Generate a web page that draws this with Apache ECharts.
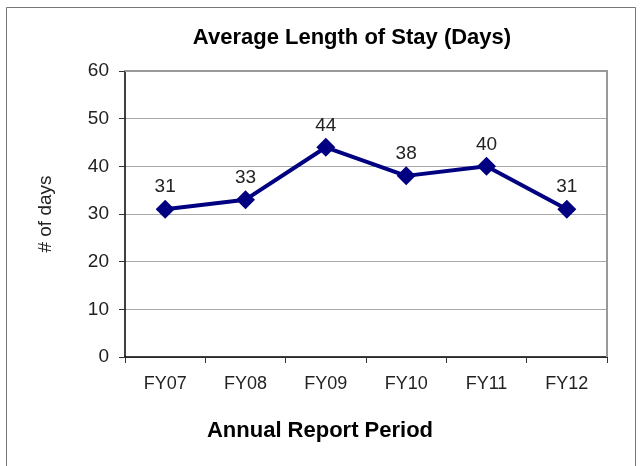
<!DOCTYPE html>
<html>
<head>
<meta charset="utf-8">
<script src="https://cdn.jsdelivr.net/npm/echarts@6/dist/echarts.min.js"></script>
<style>
  html, body { margin: 0; padding: 0; background: #fff; }
  #main { width: 640px; height: 466px; }
</style>
</head>
<body>
<div id="main"></div>
<script>
const periods = ['FY07', 'FY08', 'FY09', 'FY10', 'FY11', 'FY12']
const stayDays = [31, 33, 44, 38, 40, 31]

const chart = echarts.init(document.getElementById('main'))
const font = 'Liberation Sans'

const option = {
  animation: false,
  backgroundColor: '#fff',
  title: [{
    text: 'Average Length of Stay (Days)',
    left: 347,
    top: 22,
    textAlign: 'center',
    textStyle: { fontFamily: font, fontSize: 22, fontWeight: 'bold', color: '#000' },
  }, {
    text: 'Annual Report Period',
    left: 315,
    top: 415,
    textAlign: 'center',
    textStyle: { fontFamily: font, fontSize: 22, fontWeight: 'bold', color: '#000' },
  }],
  grid: { left: 125, right: 33, top: 71, bottom: 109 },
  xAxis: {
    type: 'category',
    data: periods,
    boundaryGap: true,
    axisLine: { lineStyle: { color: '#000', width: 1.5 } },
    axisTick: { show: true, length: 6, lineStyle: { color: '#333' } },
    axisLabel: { fontFamily: font, fontSize: 18, color: '#222', margin: 18 },
    splitLine: { show: false },
  },
  yAxis: {
    type: 'value',
    min: 0,
    max: 60,
    interval: 10,
    name: '# of days',
    nameLocation: 'middle',
    nameGap: 70,
    nameRotate: 90,
    nameTextStyle: { fontFamily: font, fontSize: 19, color: '#222' },
    axisLine: { show: true, lineStyle: { color: '#000', width: 1.5 } },
    axisTick: { show: true, length: 6, lineStyle: { color: '#333' } },
    axisLabel: { fontFamily: font, fontSize: 19, color: '#222', margin: 16 },
    splitLine: { show: true, lineStyle: { color: '#aaa', width: 1 } },
  },
  series: [{
    type: 'line',
    data: stayDays,
    symbol: 'diamond',
    symbolSize: 19,
    itemStyle: { color: '#000080' },
    lineStyle: { color: '#000080', width: 4 },
    label: {
      show: true,
      position: 'top',
      distance: 3,
      fontFamily: font,
      fontSize: 19,
      color: '#222',
    },
  }],
  graphic: [{
    type: 'rect',
    shape: { x: 6.5, y: 7.5, width: 629, height: 470 },
    style: { fill: 'none', stroke: '#777', lineWidth: 1 },
    silent: true,
  }, {
    // gray frame on the top and right of the plot area
    type: 'polyline',
    shape: { points: [[125, 71], [607, 71], [607, 357]] },
    style: { fill: 'none', stroke: '#999', lineWidth: 2 },
    silent: true,
    z: 1,
  }],
}

chart.setOption(option)
</script>
</body>
</html>
